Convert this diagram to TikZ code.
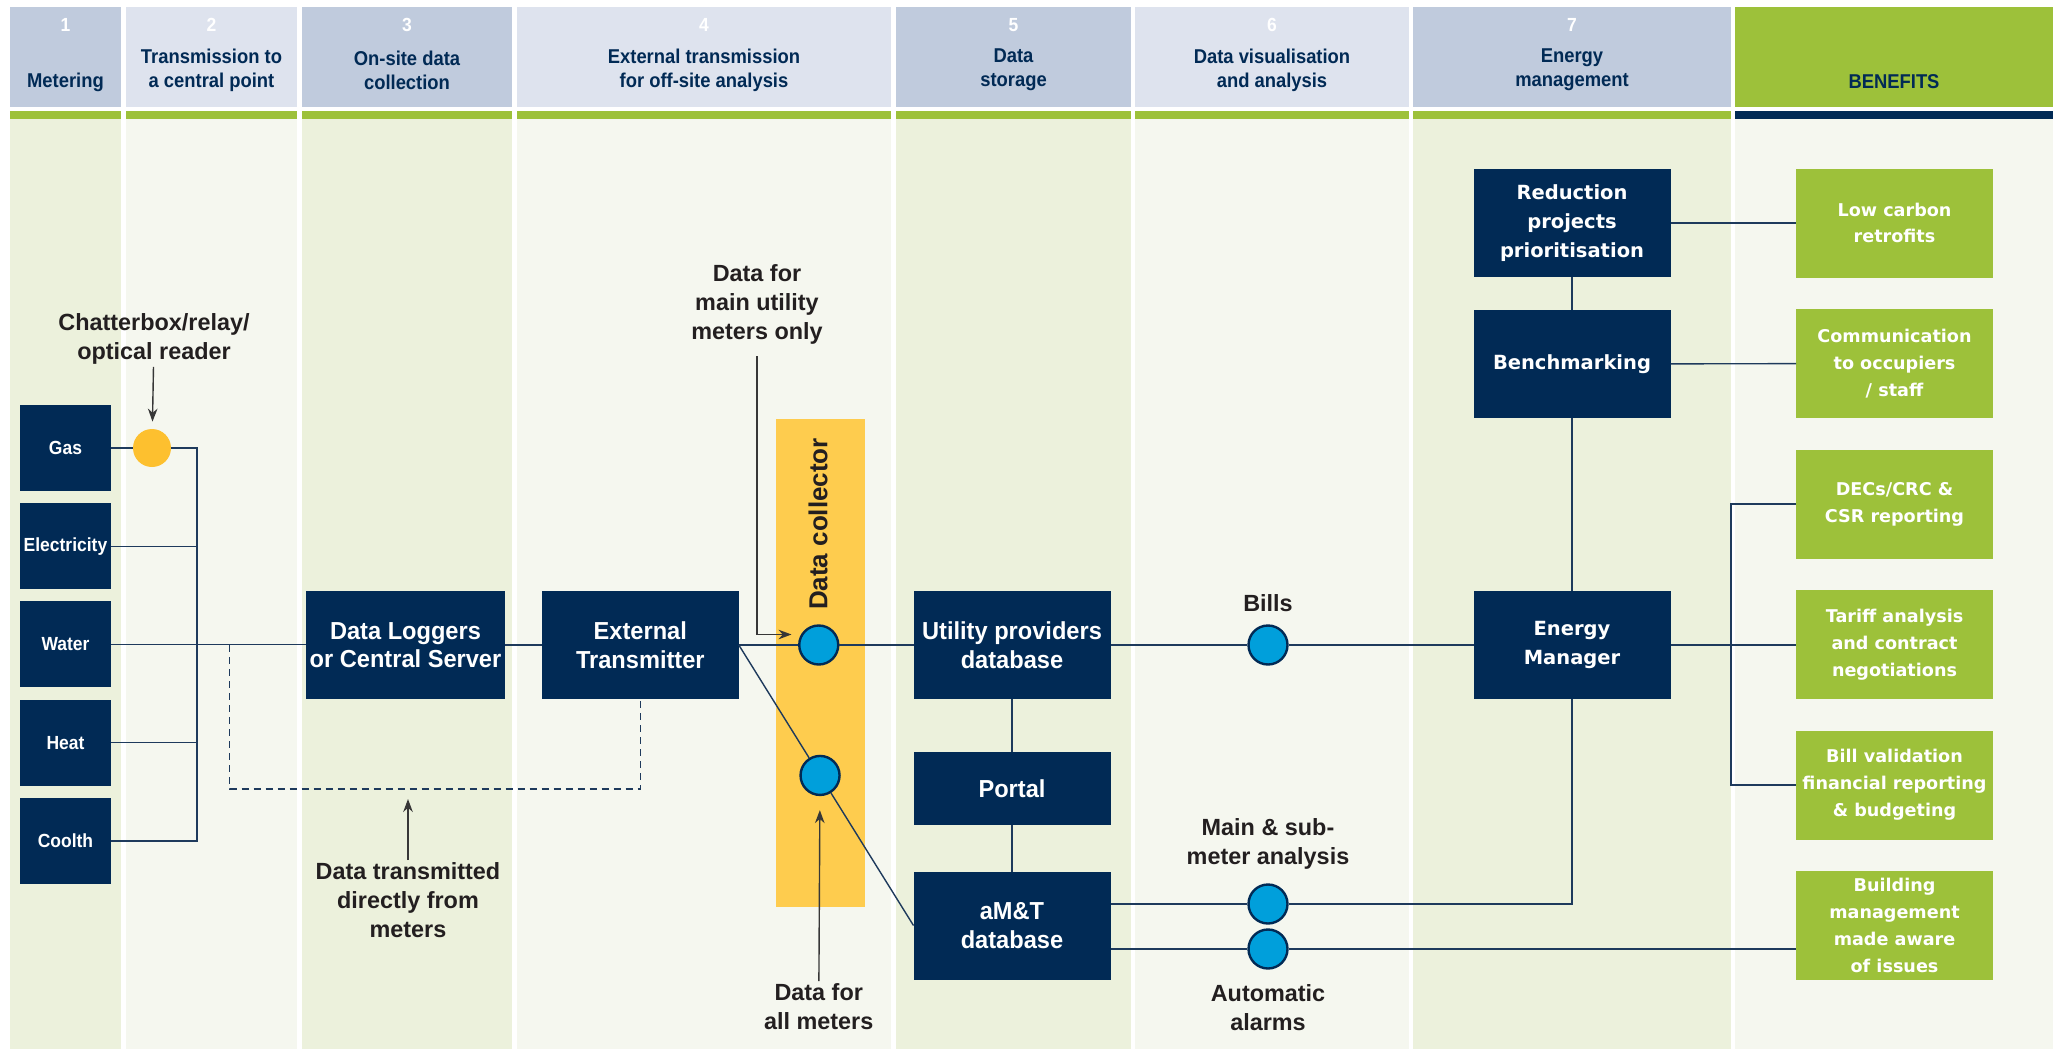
\documentclass[tikz,border=0pt]{standalone}
\usepackage{fontspec}
\setmainfont{Liberation Sans}
\newfontfamily\narrowfont[FakeStretch=0.92]{Liberation Sans}
\newfontfamily\boxfont[FakeStretch=0.96]{Liberation Sans}
\newfontfamily\widefont{DejaVu Sans}
\usepackage{tikz}
\usetikzlibrary{arrows,arrows.meta,positioning,calc}

\definecolor{navy}{RGB}{1,42,85}
\definecolor{linenavy}{RGB}{30,58,92}
\definecolor{headdark}{RGB}{192,203,221}
\definecolor{headlight}{RGB}{222,227,238}
\definecolor{bodygreen}{RGB}{236,241,220}
\definecolor{bodylight}{RGB}{245,247,239}
\definecolor{bargreen}{RGB}{157,193,58}
\definecolor{benefitgreen}{RGB}{157,193,58}
\definecolor{relayyellow}{RGB}{253,192,47}
\definecolor{collectoryellow}{RGB}{254,204,78}
\definecolor{hubblue}{RGB}{0,159,219}
\definecolor{labelgrey}{RGB}{35,31,32}
\definecolor{arrowgrey}{RGB}{55,55,55}

\begin{document}
\begin{tikzpicture}[x=0.5pt, y=-0.5pt,
  meter/.style={rectangle, fill=navy, minimum width=45.5pt, minimum height=43pt, inner sep=0pt, outer sep=0pt, text=white, font=\narrowfont\bfseries\fontsize{9.5}{11}\selectfont},
  navybox/.style={rectangle, fill=navy, minimum width=98.5pt, minimum height=54pt, inner sep=2pt, outer sep=0pt, align=center, text=white, font=\boxfont\bfseries\fontsize{12.3}{14.25}\selectfont},
  widebox/.style={navybox, font=\widefont\bfseries\fontsize{9.75}{14.5}\selectfont},
  benefit/.style={rectangle, fill=benefitgreen, minimum width=98.5pt, minimum height=54.5pt, inner sep=2pt, outer sep=0pt, align=center, text=white, font=\widefont\bfseries\fontsize{8.8}{13.4}\selectfont},
  label/.style={align=center, inner sep=1pt, text=labelgrey, font=\bfseries\fontsize{11.7}{14.5}\selectfont},
  headtext/.style={align=center, text=navy, font=\narrowfont\bfseries\fontsize{10}{12}\selectfont},
  headnum/.style={text=white, font=\narrowfont\bfseries\fontsize{9.5}{11}\selectfont},
  hub/.style={circle, fill=hubblue, draw=navy, line width=1.2pt, minimum size=19.5pt, inner sep=0pt},
  relay/.style={circle, fill=relayyellow, minimum size=19pt, inner sep=0pt},
  link/.style={draw=linenavy, line width=0.7pt},
  pointer/.style={-{Stealth[length=6.5pt, width=4.8pt]}, draw=arrowgrey, line width=0.7pt}]

\fill[white] (0,0) rectangle (2057,1049);
\useasboundingbox (0,0) rectangle (2057,1049);

% columns
\foreach \xa/\xb/\hd/\bd in {10/121/headdark/bodygreen, 126/297/headlight/bodylight, 302/512/headdark/bodygreen, 517/891/headlight/bodylight, 896/1131/headdark/bodygreen, 1135/1409/headlight/bodylight, 1413/1731/headdark/bodygreen}
{
  \fill[\hd] (\xa,6.5) rectangle (\xb,107);
  \fill[bargreen] (\xa,111) rectangle (\xb,119);
  \fill[\bd] (\xa,119) rectangle (\xb,1049);
}
\fill[benefitgreen] (1735,6.5) rectangle (2053,107);
\fill[navy] (1735,111) rectangle (2053,119);
\fill[bodylight] (1735,119) rectangle (2053,1049);

\foreach \cx/\n in {65.5/1, 211.5/2, 407/3, 704/4, 1013.5/5, 1272/6, 1572/7}
  \node[headnum] (num\n) at (\cx,25) {\n};

\node[headtext] (head1) at (65.5,82) {Metering};
\node[headtext] (head2) at (211.5,70) {Transmission to\\a central point};
\node[headtext] (head3) at (407,70) {On-site data\\collection};
\node[headtext] (head4) at (704,70) {External transmission\\for off-site analysis};
\node[headtext] (head5) at (1013.5,70) {Data\\storage};
\node[headtext] (head6) at (1272,70) {Data visualisation\\and analysis};
\node[headtext] (head7) at (1572,70) {Energy\\management};
\node[headtext] (headben) at (1894,82) {BENEFITS};

% metering
\node[meter] (gas) at (65.5,448) {Gas};
\node[meter, below=6.1pt of gas] (elec) {Electricity};
\node[meter, below=6.1pt of elec] (water) {Water};
\node[meter, below=6.1pt of water] (heat) {Heat};
\node[meter, below=6.1pt of heat] (coolth) {Coolth};

\node[relay] (relay) at (152,448) {};
\node[label] (chatter) at (154,339) {Chatterbox/relay/\\optical reader};
\draw[pointer, shorten >=3.5pt] (chatter) -- (relay);

\coordinate (busN) at (197,448);
\draw[link] (gas) -- (relay);
\draw[link] (relay) -- (busN) |- (coolth);
\draw[link] (elec) -- (elec -| busN);
\draw[link] (heat) -- (heat -| busN);

% collection and transmission
\node[navybox] (loggers) at (405.5,645) {Data Loggers\\or Central Server};
\node[navybox, right=18.25pt of loggers] (transmitter) {External\\Transmitter};
\draw[link] (water) -- (water -| loggers.west);
\draw[link] (loggers) -- (transmitter);

\coordinate (dashstart) at (229.5,645);
\coordinate (dashcorner) at (229.5,789);
\draw[link, dash pattern=on 3.5pt off 2.5pt] (dashstart) -- (dashcorner) -| (transmitter);
\node[label] (direct) at (408,900) {Data transmitted\\directly from\\meters};
\draw[pointer, shorten >=5pt] (direct) -- (direct |- dashcorner);

\node[fill=collectoryellow, minimum width=44.5pt, minimum height=243.75pt, inner sep=0pt] (collector) at (820.5,662.75) {};
\node[rotate=90, inner sep=0pt, text=labelgrey, font=\bfseries\fontsize{13}{15}\selectfont] (collectlabel) at (818,524) {Data collector};

% storage
\node[navybox] (utility) at (1012,645) {Utility providers\\database};
\node[navybox, minimum height=36.5pt, below=26.5pt of utility] (portal) {Portal};
\node[navybox, below=23.25pt of portal] (amt) {aM\&T\\database};
\draw[link] (utility) -- (portal);
\draw[link] (portal) -- (amt);

\node[hub] (mainhub) at (818.75,645) {};
\node[hub] (allhub) at ($(transmitter.east)!0.465!(amt.west)$) {};
\draw[link] (transmitter) -- (mainhub);
\draw[link] (mainhub) -- (utility);
\draw[link] (transmitter.east) -- (allhub);
\draw[link] (allhub) -- (amt.west);

\node[label] (mainlabel) at (757,304) {Data for\\main utility\\meters only};
\coordinate (maintip) at (791.5,634.5);
\draw[pointer, shorten <=5pt] (mainlabel) |- (maintip);
\node[label] (alllabel) at (818.75,1006.5) {Data for\\all meters};
\draw[pointer, shorten >=7pt] (alllabel) -- (allhub);

% visualisation
\node[hub] (bills) at (1268,645) {};
\node[hub] (mainsub) at (1268,904) {};
\node[hub] (alarms) at (1268,949) {};
\node[label] (billslabel) at (1268,603) {Bills};
\node[label] (mainsublabel) at (1268,844) {Main \& sub-\\meter analysis};
\node[label] (alarmslabel) at (1268,1007.5) {Automatic\\alarms};

% energy management
\node[widebox] (reduction) at (1572,223) {Reduction\\projects\\prioritisation};
\node[widebox, below=16.5pt of reduction] (bench) {Benchmarking};
\node[widebox] (manager) at (1572,645) {Energy\\Manager};
\draw[link] (reduction) -- (bench);
\draw[link] (bench) -- (manager);

\draw[link] (utility) -- (bills);
\draw[link] (bills) -- (manager);
\draw[link] (mainsub -| amt.east) -- (mainsub);
\draw[link] (mainsub) -| (manager);

% benefits
\node[benefit] (lowcarbon) at (1894.5,223) {Low carbon\\retrofits};
\node[benefit, below=15.75pt of lowcarbon] (comms) {Communication\\to occupiers\\/ staff};
\node[benefit, below=15.75pt of comms] (decs) {DECs/CRC \&\\CSR reporting};
\node[benefit, below=15.75pt of decs] (tariff) {Tariff analysis\\and contract\\negotiations};
\node[benefit, below=15.75pt of tariff] (billval) {Bill validation\\financial reporting\\\& budgeting};
\node[benefit, below=15.75pt of billval] (building) {Building\\management\\made aware\\of issues};

\draw[link] (reduction) -- (lowcarbon);
\draw[link] (bench) -- (comms);
\draw[link] (manager) -- (manager -| tariff.west);
\coordinate (bracket) at (1731,645);
\draw[link] (decs) -- (decs -| bracket) -- (billval -| bracket) -- (billval);
\draw[link] (alarms -| amt.east) -- (alarms);
\draw[link] (alarms) -- (alarms -| building.west);
\end{tikzpicture}
\end{document}
